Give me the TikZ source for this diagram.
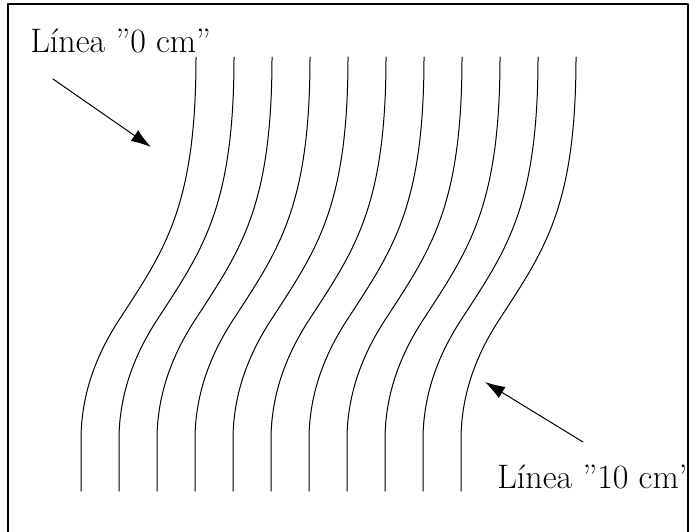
\documentclass[tikz,border=0pt]{standalone}
\usetikzlibrary{arrows.meta}

\tikzset{
  lbl/.style={anchor=base west,inner sep=0pt,font=\fontsize{17}{20}\selectfont},
  pointer/.style={line width=0.5pt,-{Latex[length=10pt,width=6.5pt]}}
}

\begin{document}
\begin{tikzpicture}[x=0.5pt,y=-0.5pt,line cap=round,line join=round]
  \useasboundingbox (0,0) rectangle (689,531);
  \draw[line width=0.8pt] (8,4) rectangle (688,560);
  % the eleven bent lines
  \foreach \i [evaluate=\i as \x using 196+38*\i] in {0,...,10} {
    \draw[line width=0.5pt] (\x,57) .. controls +(0,150) and +(45.5,-70) .. ++(-77,263)
      .. controls +(-19.5,30) and +(0,-50) .. ++(-38,120) -- ++(0,51);
  }
  \node[lbl] (lbl0) at (30,52) {Línea ”0 cm”};
  \node[lbl] (lbl10) at (497,488) {Línea ”10 cm”};
  \coordinate (tail0) at (53,79);
  \coordinate (tip0) at (151,147);
  \coordinate (tail10) at (583,442);
  \coordinate (tip10) at (485,382);
  \draw[pointer] (tail0) -- (tip0);
  \draw[pointer] (tail10) -- (tip10);
\end{tikzpicture}
\end{document}
